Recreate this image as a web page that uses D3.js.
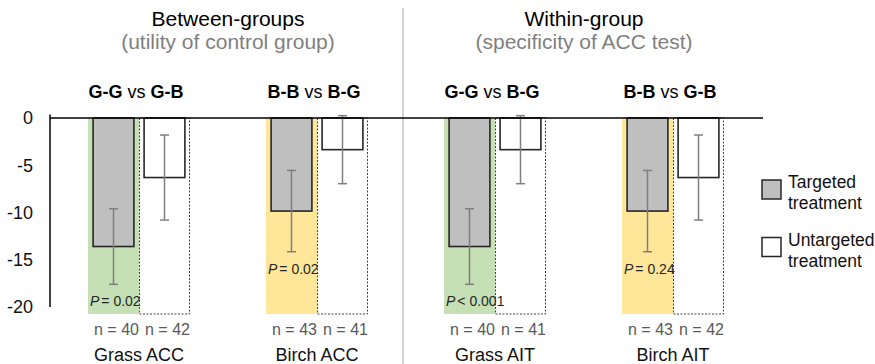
<!DOCTYPE html>
<html>
<head>
<meta charset="utf-8">
<script src="https://cdn.jsdelivr.net/npm/d3@7"></script>
<style>
  body { margin: 0; background: #fff; }
  text { font-family: "Liberation Sans", Arial, sans-serif; }
</style>
</head>
<body>
<svg width="875" height="364"></svg>
<script>
// values
var categories = ["Grass ACC", "Birch ACC", "Grass AIT", "Birch AIT"];
var allergen = ["Grass", "Birch", "Grass", "Birch"];
var series = ["Targeted", "Untargeted"];
var targeted = [-13.6, -9.85, -13.6, -9.85];
var targetedErr = [4.0, 4.3, 4.0, 4.3];
var untargeted = [-6.3, -3.35, -3.35, -6.3];
var untargetedErr = [4.5, 3.6, 3.6, 4.5];
var nTargeted = [40, 43, 40, 43];
var nUntargeted = [42, 41, 41, 42];
var pText = ["= 0.02", "= 0.02", "< 0.001", "= 0.24"];
var comparisons = [["G-G", "G-B"], ["B-B", "B-G"], ["G-G", "B-G"], ["B-B", "G-B"]];
var sectionTitles = ["Between-groups", "Within-group"];
var sectionSubtitles = ["(utility of control group)", "(specificity of ACC test)"];
var yTicks = [0, -5, -10, -15, -20];

var bandColor = d3.scaleOrdinal()
  .domain(["Grass", "Birch"])
  .range(["#c5e0b4", "#ffe699"]);

var barColor = d3.scaleOrdinal()
  .domain(series)
  .range(["#bfbfbf", "#ffffff"]);

var svg = d3.select("svg");

var x = d3.scaleBand()
  .domain(categories)
  .range([88, 724])
  .paddingInner(0.427)
  .paddingOuter(0);

var xs = d3.scaleBand()
  .domain(series)
  .range([0, x.bandwidth()]);

var y = d3.scaleLinear()
  .domain([-20, 0])
  .range([307, 118]);

var rows = categories.map(function(c, i) {
  return {
    cat: c, i: i, allergen: allergen[i],
    vals: [
      {s: "Targeted", v: targeted[i], e: targetedErr[i], n: nTargeted[i]},
      {s: "Untargeted", v: untargeted[i], e: untargetedErr[i], n: nUntargeted[i]}
    ]
  };
});

// divider between the two sections
svg.append("line")
  .attr("x1", 403).attr("x2", 403)
  .attr("y1", 8).attr("y2", 364)
  .attr("stroke", "#a6a6a6")
  .attr("stroke-width", 1);

var grp = svg.append("g").selectAll("g")
  .data(rows)
  .enter().append("g")
  .attr("transform", function(d) { return "translate(" + x(d.cat) + ",0)"; });

// coloured background for targeted half
grp.append("rect")
  .attr("x", xs("Targeted"))
  .attr("y", y(0))
  .attr("width", xs.bandwidth())
  .attr("height", y(-20) - y(0) + 7)
  .attr("fill", function(d) { return bandColor(d.allergen); });

// dotted frame for untargeted half
grp.append("rect")
  .attr("x", xs("Untargeted") + 0.5)
  .attr("y", y(0))
  .attr("width", xs.bandwidth() - 1)
  .attr("height", y(-20) - y(0) + 7)
  .attr("fill", "none")
  .attr("stroke", "#404040")
  .attr("stroke-width", 1)
  .attr("stroke-dasharray", "2,1.5");

var bw = xs.bandwidth() * 0.8;

var bars = grp.selectAll("g.bar")
  .data(function(d) { return d.vals; })
  .enter().append("g")
  .attr("class", "bar");

bars.append("rect")
  .attr("x", function(d) { return xs(d.s) + (xs.bandwidth() - bw) / 2; })
  .attr("y", y(0))
  .attr("width", bw)
  .attr("height", function(d) { return y(d.v) - y(0); })
  .attr("fill", function(d) { return barColor(d.s); })
  .attr("stroke", "#262626")
  .attr("stroke-width", 1.6);

// error bars
var cx = function(d) { return xs(d.s) + xs.bandwidth() / 2; };
bars.append("line")
  .attr("x1", cx).attr("x2", cx)
  .attr("y1", function(d) { return y(d.v + d.e); })
  .attr("y2", function(d) { return y(d.v - d.e); })
  .attr("stroke", "#7f7f7f").attr("stroke-width", 1.5);
[1, -1].forEach(function(sg) {
  bars.append("line")
    .attr("x1", function(d) { return cx(d) - 4.5; })
    .attr("x2", function(d) { return cx(d) + 4.5; })
    .attr("y1", function(d) { return y(d.v + sg * d.e); })
    .attr("y2", function(d) { return y(d.v + sg * d.e); })
    .attr("stroke", "#7f7f7f").attr("stroke-width", 1.5);
});

// n labels
bars.append("text")
  .attr("x", function(d) { return cx(d) + 3; })
  .attr("y", 335)
  .attr("text-anchor", "middle")
  .style("font-size", "16px")
  .attr("fill", "#595959")
  .text(function(d) { return "n = " + d.n; });

// P values under the targeted error bar
var pt = grp.append("text")
  .attr("x", xs("Targeted") + 2)
  .attr("y", function(d) { return y(targeted[d.i] - targetedErr[d.i]) + 22; })
  .style("font-size", "14px")
  .attr("fill", "#262626");
pt.append("tspan").style("font-style", "italic").text("P");
pt.append("tspan").attr("dx", 2).text(function(d) { return pText[d.i]; });

// category labels
grp.append("text")
  .attr("x", x.bandwidth() / 2)
  .attr("y", 361)
  .attr("text-anchor", "middle")
  .style("font-size", "18px")
  .attr("fill", "#111")
  .text(function(d) { return d.cat; });

// comparison headers
var hd = grp.append("text")
  .attr("x", x.bandwidth() / 2 - 3)
  .attr("y", 98)
  .attr("text-anchor", "middle")
  .style("font-size", "18px")
  .attr("fill", "#000");
hd.append("tspan").style("font-weight", "bold").text(function(d) { return comparisons[d.i][0]; });
hd.append("tspan").text(" vs ");
hd.append("tspan").style("font-weight", "bold").text(function(d) { return comparisons[d.i][1]; });

// section titles
sectionTitles.forEach(function(t, k) {
  var mid = (x(categories[2 * k]) + x(categories[2 * k + 1]) + x.bandwidth()) / 2;
  svg.append("text")
    .attr("x", mid).attr("y", 26)
    .attr("text-anchor", "middle")
    .style("font-size", "21px")
    .attr("fill", "#000")
    .text(t);
  svg.append("text")
    .attr("x", mid).attr("y", 49)
    .attr("text-anchor", "middle")
    .style("font-size", "21px")
    .attr("fill", "#7f7f7f")
    .text(sectionSubtitles[k]);
});

// y axis
var yAxis = d3.axisLeft(y)
  .tickValues(yTicks)
  .tickFormat(function(d) { return String(d); })
  .tickSize(0)
  .tickPadding(17);
var ag = svg.append("g")
  .attr("transform", "translate(50,0)")
  .call(yAxis);
ag.select(".domain").remove();
ag.selectAll("text")
  .style("font-size", "18px")
  .attr("fill", "#111")
  .style("font-family", "'Liberation Sans', Arial, sans-serif");
svg.append("line")
  .attr("x1", 50).attr("x2", 50)
  .attr("y1", y(0) - 3.5).attr("y2", y(-20))
  .attr("stroke", "#000").attr("stroke-width", 1.5);

// zero line
svg.append("line")
  .attr("x1", 50).attr("x2", 763)
  .attr("y1", y(0)).attr("y2", y(0))
  .attr("stroke", "#000").attr("stroke-width", 1.5);

// legend
var lg = svg.append("g").attr("transform", "translate(762,180)");
var li = lg.selectAll("g")
  .data(series)
  .enter().append("g")
  .attr("transform", function(d, i) { return "translate(0," + i * 57.5 + ")"; });
li.append("rect")
  .attr("width", 19).attr("height", 19)
  .attr("fill", function(d) { return barColor(d); })
  .attr("stroke", "#262626").attr("stroke-width", 1.5);
var lt = li.append("text")
  .attr("x", 26)
  .attr("y", 8)
  .style("font-size", "17.5px")
  .attr("fill", "#111");
lt.append("tspan").text(function(d) { return d; });
lt.append("tspan").attr("x", 26).attr("dy", 21).text("treatment");
</script>
</body>
</html>
